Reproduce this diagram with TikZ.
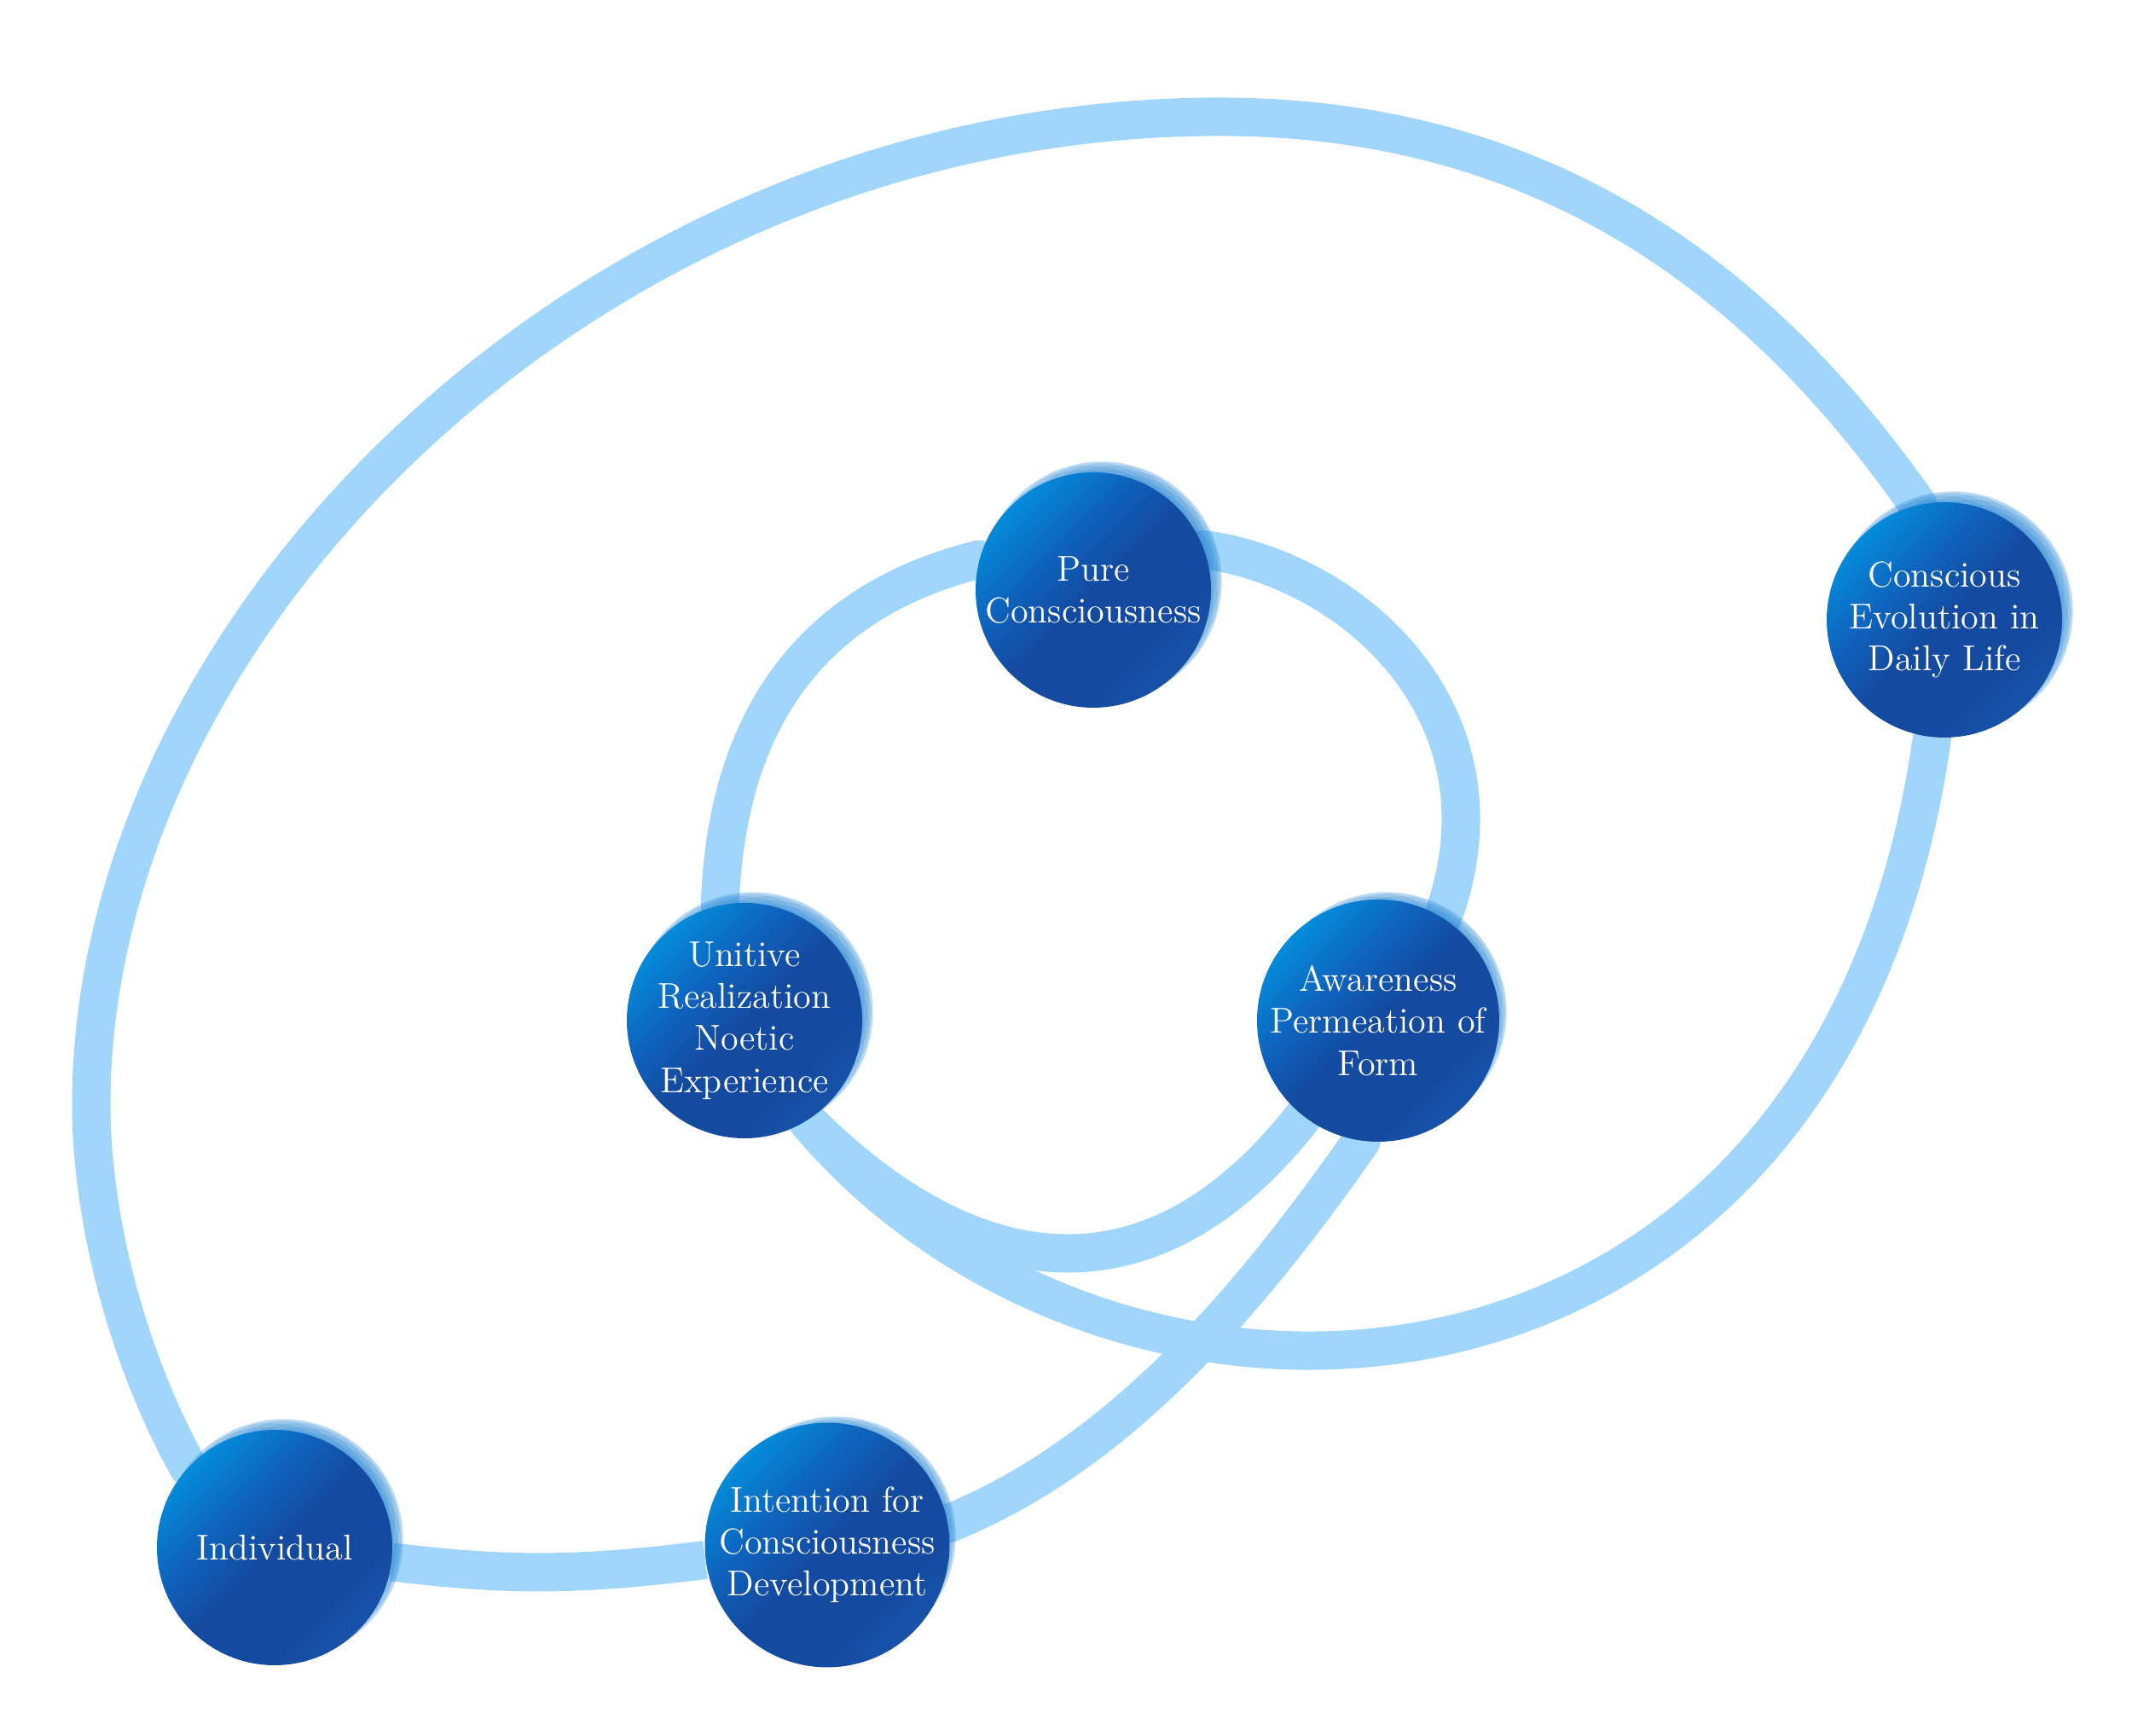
\documentclass[tikz,border=0pt]{standalone}
\usepackage{fontspec}
\usepackage{tikz}
\usetikzlibrary{positioning,calc,backgrounds}

\definecolor{linkblue}{RGB}{160,214,251}
\definecolor{orbdark}{RGB}{20,74,160}
\definecolor{orbdeep}{RGB}{28,92,178}
\definecolor{orbmid}{RGB}{22,114,198}
\definecolor{orbsoft}{RGB}{14,100,190}
\definecolor{orbsky}{RGB}{5,140,218}
\definecolor{orbcyan}{RGB}{0,176,240}
\definecolor{orbrimc}{RGB}{40,135,210}

\pgfdeclareverticalshading{orbfade}{100bp}{color(0bp)=(orbmid); color(16bp)=(orbdeep); color(34bp)=(orbdark); color(50bp)=(orbdark); color(62bp)=(orbsoft); color(75bp)=(orbsky); color(86bp)=(orbcyan); color(100bp)=(orbcyan)}

\tikzset{
  orb/.style={circle, minimum size=2.76cm, inner sep=0pt, shading=orbfade, shading angle=45, text=white, align=center, font=\fontsize{12}{14}\selectfont},
  orbrim/.style={fill=orbrimc, fill opacity=0.18},
  link/.style={draw=linkblue, line width=0.45cm, line join=round},
}

\begin{document}
\begin{tikzpicture}
\useasboundingbox (0,0) rectangle (25,20.36);

% the six orbs
\foreach \nm/\pos/\txt in {pure/{12.82,13.44}/{Pure\\Consciousness},
    cons/{22.80,13.09}/{Conscious\\Evolution in\\Daily Life},
    unit/{8.73,8.39}/{Unitive\\Realization\\Noetic\\Experience},
    aware/{16.16,8.39}/{Awareness\\Permeation of\\Form},
    indiv/{3.22,2.21}/{Individual},
    inten/{9.70,2.24}/{Intention for\\Consciousness\\Development}} {
  \coordinate (rimc) at ($(\pos)+(0.1,0.1)$);
  \foreach \k in {0,...,11}
    \fill[orbrim, rotate around={15*\k:(rimc)}] (rimc) ellipse [x radius=1.41cm, y radius=1.2cm];
  \node[orb] (\nm) at (\pos) {\txt};
}

\coordinate (loopLeft) at (1.07,7.4);
\coordinate (loopTop) at (14.3,18.99);

% connectors behind the orbs
\begin{scope}[on background layer]
\draw[link] (indiv.center) -- (indiv.137) .. controls +(119:1.6) and +(0,-1.2) .. (loopLeft)
  .. controls +(0,5.7) and +(-7.3,0) .. (loopTop)
  .. controls +(4,0) and +(125:3) .. (cons.103) -- (cons.center);
\draw[link] (indiv) to[out=-7,in=187] (inten);
\draw[link] (inten.center) -- (inten.10) .. controls +(22:2.2) and +(235:2.2) .. (aware.262) -- (aware.center);
\draw[link] (pure.center) -- (pure.20) .. controls +(-8:1.8) and +(70:2.5) .. (aware.58) -- (aware.center);
\draw[link] (pure.center) -- (pure.165) .. controls +(194:2) and +(88:2.2) .. (unit.102) -- (unit.center);
\draw[link] (unit.center) -- (unit.-58) .. controls +(-45:2.6) and +(232:3) .. (aware.232) -- (aware.center);
\draw[link] (unit.center) -- (unit.-58) .. controls +(-50:5.6) and +(262:8.5) .. (cons.-96) -- (cons.center);
\end{scope}
\end{tikzpicture}
\end{document}
